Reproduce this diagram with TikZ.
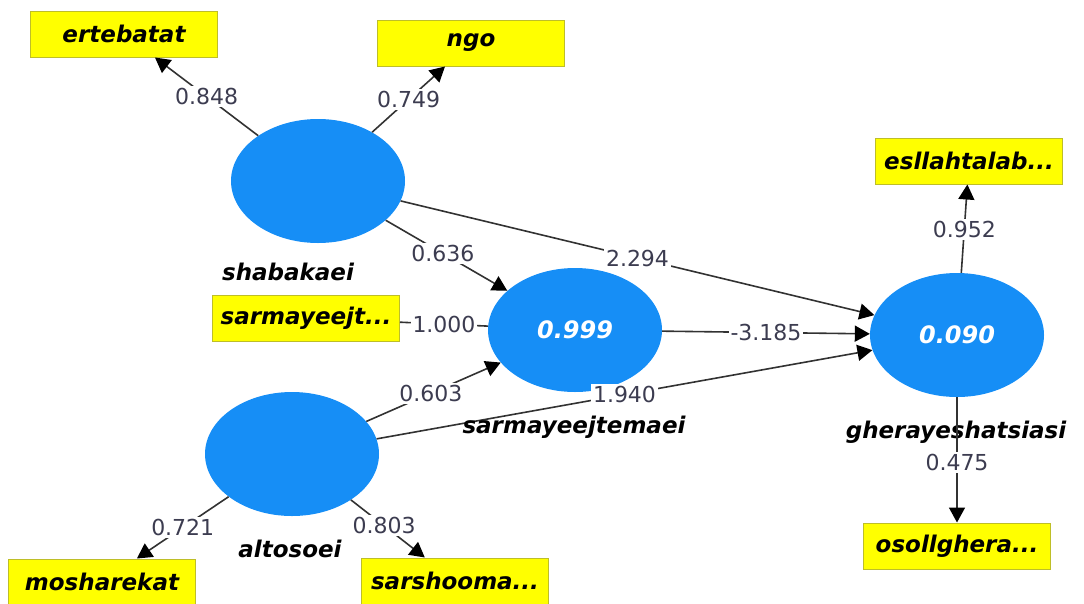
\documentclass[tikz,border=0pt]{standalone}
\usepackage{fontspec}
\setsansfont{DejaVu Sans}
\usetikzlibrary{shapes.geometric,arrows.meta}
\definecolor{lvblue}{RGB}{22,142,246}
\definecolor{boxyel}{RGB}{255,255,0}
\definecolor{boxedge}{RGB}{190,190,40}
\definecolor{edgecol}{RGB}{50,50,50}
\definecolor{numcol}{RGB}{60,60,80}
\begin{document}
\begin{tikzpicture}[x=1pt,y=-1pt,
 latent/.style={ellipse, fill=lvblue, draw=none, minimum width=174pt, minimum height=124pt, inner sep=0pt, text=white, font=\sffamily\bfseries\itshape\fontsize{24}{28}\selectfont},
 indic/.style={rectangle, fill=boxyel, draw=boxedge, line width=1pt, minimum width=187pt, minimum height=46pt, inner sep=0pt, font=\sffamily\bfseries\itshape\fontsize{23}{28}\selectfont},
 vname/.style={font=\sffamily\bfseries\itshape\fontsize{23}{28}\selectfont, text=black},
 coef/.style={fill=white, inner sep=2pt, text=numcol, font=\sffamily\fontsize{22}{26}\selectfont},
 conn/.style={draw=edgecol, line width=1.6pt, -{Triangle[length=15pt,width=16pt,color=black]}},
 plainconn/.style={draw=edgecol, line width=1.6pt}]
\useasboundingbox (0,0) rectangle (1084,603);

\node[latent] (shab) at (318,181) {};
\node[latent] (sarm) at (575,330) {0.999};
\node[latent] (gher) at (957,335) {0.090};
\node[latent] (alto) at (292,454) {};

\node[indic] (erte) at (124,34) {ertebatat};
\node[indic] (ngo) at (471,43) {ngo};
\node[indic] (esll) at (969,161) {esllahtalab...};
\node[indic] (sarmi) at (306,318) {sarmayeejt...};
\node[indic] (osol) at (957,546) {osollghera...};
\node[indic] (mosh) at (102,582) {mosharekat};
\node[indic] (sars) at (455,581) {sarshooma...};

\node[vname] (gherl) at (956,432) {gherayeshatsiasi};

\draw[conn] (shab) -- node[coef,pos=0.5]{0.848} (erte);
\draw[conn] (shab) -- node[coef,pos=0.5]{0.749} (ngo);
\draw[conn] (shab) -- node[coef,pos=0.47]{0.636} (sarm);
\draw[conn] (shab) -- node[coef,pos=0.5]{2.294} (gher);
\draw[plainconn] (sarmi) -- node[coef]{1.000} (sarm);
\draw[conn] (sarm) -- node[coef]{-3.185} (gher);
\draw[conn] (alto) -- node[coef,pos=0.48]{0.603} (sarm);
\draw[conn] (alto) -- node[coef]{1.940} (gher);
\draw[conn] (alto) -- node[coef]{0.721} (mosh);
\draw[conn] (alto) -- node[coef,pos=0.45]{0.803} (sars);
\draw[conn] (gher) -- node[coef,pos=0.49]{0.952} (esll);
\draw[conn] (gher) -- node[coef,pos=0.52]{0.475} (osol);

\node[vname] (shabl) at (288,272) {shabakaei};
\node[vname] (sarml) at (574,427) {sarmayeejtemaei};
\node[vname] (altol) at (290,549) {altosoei};
\end{tikzpicture}
\end{document}
